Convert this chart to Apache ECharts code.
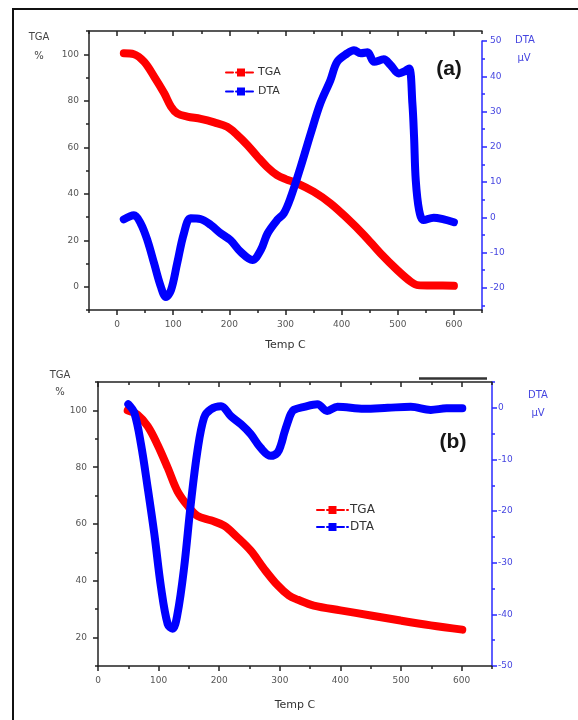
<!DOCTYPE html>
<html><head><meta charset="utf-8">
<script src="https://cdn.jsdelivr.net/npm/echarts@6/dist/echarts.min.js"></script>
<style>html,body{margin:0;padding:0;background:#fff}#c{width:578px;height:720px}</style>
</head><body><div id="c"></div>
<script>
// ---------- Data: panel (a) ----------
const tempA_TGA = [12, 30, 48, 66, 84, 96, 107, 125, 149, 173, 196, 214, 232, 250, 267, 285, 300, 321, 350, 380, 410, 440, 469, 499, 523, 535, 560, 580, 600];
const tgaA      = [100.4, 100, 96.8, 90.4, 83.2, 77.5, 74.6, 73.2, 72.2, 70.7, 68.8, 65.3, 61, 56, 51.6, 48, 46.3, 44.5, 40.9, 35.9, 29.4, 22.2, 14.4, 7.2, 2.2, 0.7, 0.5, 0.5, 0.4];
const tempA_DTA = [12, 30, 42, 54, 66, 78, 87, 96, 107, 119, 131, 149, 167, 185, 202, 220, 241, 256, 268, 285, 297, 309, 327, 345, 362, 380, 392, 410, 422, 434, 446, 458, 475, 487, 502, 511, 520, 526, 529, 532, 538, 546, 564, 582, 600];
const dtaA      = [-0.6, 0.6, -1.7, -6.5, -13.1, -19.7, -22.6, -20.7, -13.1, -4.6, -0.3, -0.5, -2.2, -4.6, -6.5, -9.8, -12.1, -9.3, -4.6, -0.8, 1.1, 5.5, 14.3, 23.8, 32.3, 38.9, 44.1, 46.5, 47.4, 46.5, 46.8, 44.1, 44.8, 43.2, 40.8, 41.3, 42.2, 32.3, 22.8, 10.5, 2, -0.8, -0.1, -0.6, -1.4];

// ---------- Data: panel (b) ----------
const tempB_TGA = [49, 65, 82, 98, 115, 131, 148, 164, 186, 208, 230, 252, 274, 296, 315, 330, 356, 400, 450, 499, 549, 601];
const tgaB      = [100, 98.5, 94.4, 88, 79.8, 71.6, 66.4, 62.9, 61.3, 59.4, 55.3, 50.6, 44.2, 38.5, 34.8, 33.3, 31.3, 29.6, 27.8, 26, 24.3, 22.8];
const tempB_DTA = [50, 60, 71, 82, 93, 104, 115, 123, 131, 142, 153, 164, 175, 186, 203, 219, 236, 252, 268, 285, 296, 302, 307, 313, 318, 323, 340, 362, 378, 395, 439, 478, 516, 549, 575, 601];
const dtaB      = [0.7, -1, -7.1, -15.5, -24.5, -34.8, -41.9, -42.8, -40, -31, -18.7, -8.4, -1.9, -0.3, 0.3, -1.6, -3.2, -5.1, -7.7, -9.3, -8.7, -7.1, -5, -2.8, -1.2, -0.4, 0.2, 0.7, -0.6, 0.2, -0.2, 0, 0.2, -0.4, -0.1, -0.1];

// ---------- Tick values ----------
const xMajorTicks = [0, 100, 200, 300, 400, 500, 600];
const xMinorTicksA = [-50, 50, 150, 250, 350, 450, 550, 650];
const xMinorTicksB = [50, 150, 250, 350, 450, 550, 650];
const yLeftMajorA = [0, 20, 40, 60, 80, 100];
const yLeftMinorA = [-10, 10, 30, 50, 70, 90, 110];
const yRightMajorA = [-20, -10, 0, 10, 20, 30, 40, 50];
const yRightMinorA = [-25, -15, -5, 5, 15, 25, 35, 45];
const yLeftMajorB = [20, 40, 60, 80, 100];
const yLeftMinorB = [10, 30, 50, 70, 90, 110];
const yRightMajorB = [-50, -40, -30, -20, -10, 0];
const yRightMinorB = [-45, -35, -25, -15, -5, 5];

const pairs = (xs, ys) => xs.map((x, i) => [x, ys[i]]);

const BLACK = '#222';
const BLUE_AX = '#2a2aff';
const BLUE_TX = '#4646e0';
const LBL = {fontFamily: 'DejaVu Sans', fontSize: 9, color: '#555'};

function xAx(grid, min, max, pos, ticks, len, inside, labels, lineShow, extra) {
  return Object.assign({
    type: 'value', gridIndex: grid, min: min, max: max, position: pos,
    axisLine: {show: lineShow, onZero: false, lineStyle: {color: BLACK, width: 1.5}},
    axisTick: {show: true, inside: inside, length: len, customValues: ticks, lineStyle: {color: BLACK, width: 1.5}},
    axisLabel: labels ? Object.assign({show: true, customValues: ticks, margin: 10}, LBL) : {show: false},
    splitLine: {show: false}
  }, extra || {});
}
function yAx(grid, min, max, pos, ticks, len, labels, lineShow, color, txColor, margin) {
  return {
    type: 'value', gridIndex: grid, min: min, max: max, position: pos,
    axisLine: {show: lineShow, onZero: false, lineStyle: {color: color, width: 1.5}},
    axisTick: {show: true, inside: false, length: len, customValues: ticks, lineStyle: {color: color, width: 1.5}},
    axisLabel: labels ? Object.assign({}, LBL, {show: true, customValues: ticks, margin: margin, color: txColor}) : {show: false},
    splitLine: {show: false}
  };
}

const nameStyle = {fontFamily: 'DejaVu Sans', fontSize: 11, color: '#333'};

function mkLegend(name, left, top, w, fs) {
  return {
    data: [name], left: left, top: top, orient: 'vertical', padding: 0,
    itemWidth: w, itemHeight: 10, selectedMode: false,
    lineStyle: {type: [7, 3], width: 2},
    textStyle: {fontFamily: 'DejaVu Sans', fontSize: fs, color: '#333', padding: [0, 0, 0, -3]}
  };
}
function mkSeries(name, xi, yi, data, color, z) {
  return {
    name: name, type: 'line', xAxisIndex: xi, yAxisIndex: yi, data: data,
    symbol: 'rect', showSymbol: false, smooth: 0.35,
    lineStyle: {color: color, width: 8, cap: 'round', join: 'round'},
    itemStyle: {color: color}, silent: true, z: z
  };
}
function txt(t, x, y, color, size, weight) {
  return {type: 'text', x: x, y: y, silent: true,
    style: {text: t, fill: color, fontSize: size, fontWeight: weight,
      fontFamily: weight === 'bold' ? 'Liberation Sans' : 'DejaVu Sans',
      align: 'center', verticalAlign: 'middle'}};
}

const option = {
  animation: false,
  backgroundColor: '#fff',
  grid: [
    {left: 89, top: 31, width: 393, height: 279, outerBoundsMode: 'none', containLabel: false},
    {left: 89, top: 41, width: 393, height: 269, outerBoundsMode: 'none', containLabel: false},
    {left: 98, top: 382, width: 394, height: 284, outerBoundsMode: 'none', containLabel: false}
  ],
  xAxis: [
    // panel (a)
    xAx(0, -50, 650, 'bottom', xMajorTicks, 5, false, true, true, {name: 'Temp C', nameLocation: 'middle', nameGap: 30, nameTextStyle: nameStyle}),
    xAx(0, -50, 650, 'bottom', xMinorTicksA, 3, false, false, false),
    xAx(0, -50, 650, 'top', xMajorTicks, 5, true, false, true),
    xAx(0, -50, 650, 'top', xMinorTicksA, 3, true, false, false),
    // hidden x for DTA (a)
    {type: 'value', gridIndex: 1, min: -50, max: 650, show: false},
    // panel (b)
    xAx(2, 0, 650, 'bottom', xMajorTicks, 5, false, true, true, {name: 'Temp C', nameLocation: 'middle', nameGap: 34, nameTextStyle: nameStyle}),
    xAx(2, 0, 650, 'bottom', xMinorTicksB, 3, false, false, false),
    xAx(2, 0, 650, 'top', xMajorTicks, 5, true, false, true),
    xAx(2, 0, 650, 'top', xMinorTicksB, 3, true, false, false)
  ],
  yAxis: [
    // (a) left
    yAx(0, -10, 110, 'left', yLeftMajorA, 5, true, true, BLACK, '#555', 10),
    yAx(0, -10, 110, 'left', yLeftMinorA, 3, false, false, BLACK),
    // (a) right (DTA)
    yAx(1, -26.3, 50, 'right', yRightMajorA, 5, true, true, BLUE_AX, BLUE_TX, 8),
    yAx(1, -26.3, 50, 'right', yRightMinorA, 3, false, false, BLUE_AX),
    // (b) left
    yAx(2, 10, 110, 'left', yLeftMajorB, 5, true, true, BLACK, '#555', 11),
    yAx(2, 10, 110, 'left', yLeftMinorB, 3, false, false, BLACK),
    // (b) right
    yAx(2, -50, 5, 'right', yRightMajorB, 5, true, true, BLUE_AX, BLUE_TX, 6),
    yAx(2, -50, 5, 'right', yRightMinorB, 3, false, false, BLUE_AX)
  ],
  legend: [
    mkLegend('TGA', 225, 67, 30, 11),
    mkLegend('DTA', 225, 86, 30, 11),
    mkLegend('TGA', 316, 504, 31, 12),
    mkLegend('DTA', 316, 521, 31, 12)
  ],
  series: [
    mkSeries('TGA', 0, 0, pairs(tempA_TGA, tgaA), '#ff0000', 3),
    mkSeries('DTA', 4, 2, pairs(tempA_DTA, dtaA), '#0000ff', 4),
    mkSeries('TGA', 5, 4, pairs(tempB_TGA, tgaB), '#ff0000', 3),
    mkSeries('DTA', 5, 6, pairs(tempB_DTA, dtaB), '#0000ff', 4)
  ],
  graphic: [
    {type: 'rect', shape: {x: 13, y: 9, width: 700, height: 800}, style: {fill: 'none', stroke: '#111', lineWidth: 2}, silent: true, z: 100},
    txt('TGA', 39, 37, '#444', 10, 'normal'),
    txt('%', 39, 56, '#444', 10, 'normal'),
    txt('DTA', 525, 40, BLUE_TX, 10, 'normal'),
    txt('\u00b5V', 524, 58, BLUE_TX, 10, 'normal'),
    txt('TGA', 60, 375, '#444', 10, 'normal'),
    txt('%', 60, 392, '#444', 10, 'normal'),
    txt('DTA', 538, 395, BLUE_TX, 10, 'normal'),
    txt('\u00b5V', 538, 413, BLUE_TX, 10, 'normal'),
    txt('(a)', 449, 69, '#161616', 21, 'bold'),
    txt('(b)', 453, 442, '#161616', 21, 'bold'),
    {type: 'line', shape: {x1: 419, y1: 378.5, x2: 487, y2: 378.5}, style: {stroke: '#333', lineWidth: 2.5}, silent: true}
  ]
};

const chart = echarts.init(document.getElementById('c'), null, {renderer: 'canvas'});
chart.setOption(option);
</script></body></html>
